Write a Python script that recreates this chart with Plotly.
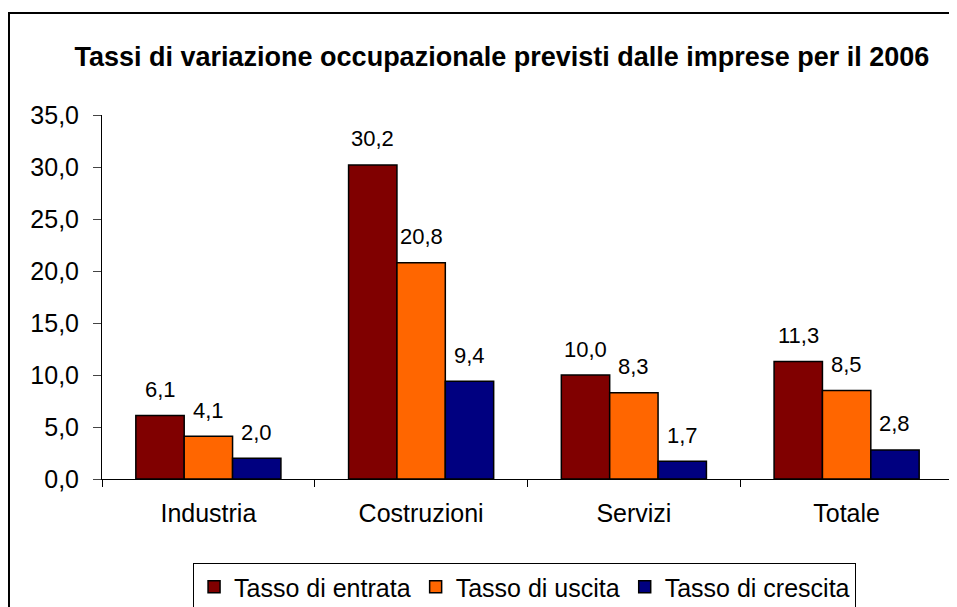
import plotly.graph_objects as go

# data
categories = ["Industria", "Costruzioni", "Servizi", "Totale"]
series_names = ["Tasso di entrata", "Tasso di uscita", "Tasso di crescita"]
entrata = [6.1, 30.2, 10.0, 11.3]
uscita = [4.1, 20.8, 8.3, 8.5]
crescita = [2.0, 9.4, 1.7, 2.8]
y_ticks = [0, 5, 10, 15, 20, 25, 30, 35]

colors = ["#800000", "#FF6600", "#000080"]
font = "Liberation Sans, Arial, sans-serif"

fig = go.Figure()
for name, vals, col in zip(series_names, [entrata, uscita, crescita], colors):
    fig.add_trace(go.Bar(
        x=categories,
        y=vals,
        name=name,
        marker=dict(color=col, line=dict(color="black", width=1.5)),
    ))

# value labels above the bars
for i, vals in enumerate([entrata, uscita, crescita]):
    for cat, v in zip(categories, vals):
        fig.add_annotation(
            x=cat, y=v,
            text=f"{v:.1f}".replace(".", ","),
            showarrow=False,
            xshift=(i - 1) * 48.3,
            yshift=26,
            yanchor="middle",
            font=dict(size=22, color="black", family=font),
        )

# outer frame around the whole chart (right and bottom edges run off the page)
fig.add_shape(
    type="rect", xref="paper", yref="paper",
    x0=-0.1093, x1=1.03, y0=-0.5, y1=1.28,
    line=dict(color="black", width=2),
    fillcolor="rgba(0,0,0,0)",
)

# page body has an 8px margin; figure is made taller than the window so the
# legend (cut by the window bottom like in the original) doesn't squeeze the plot
fig.update_layout(
    width=949,
    height=640,
    margin=dict(l=94, r=4, t=107, b=169),
    paper_bgcolor="white",
    plot_bgcolor="white",
    separators=",.",
    barmode="group",
    bargap=0.318,
    bargroupgap=0,
    font=dict(family=font, color="black", size=25),
    title=dict(
        text="<b>Tassi di variazione occupazionale previsti dalle imprese per il 2006</b>",
        x=0.5205, xanchor="center",
        y=1 - 48.5 / 640, yanchor="middle",
        font=dict(size=27, family=font, color="black"),
    ),
    xaxis=dict(
        showline=True, linecolor="black", linewidth=1,
        ticks="outside", tickson="boundaries", ticklen=7, tickcolor="black",
        tickfont=dict(size=25),
        ticklabelstandoff=12,
        showgrid=False,
    ),
    yaxis=dict(
        range=[0, 35],
        tickvals=y_ticks,
        tickformat=".1f",
        showline=True, linecolor="black", linewidth=1,
        ticks="outside", ticklen=8, tickcolor="#444444",
        tickfont=dict(size=25),
        ticklabelstandoff=9,
        showgrid=False, zeroline=False,
    ),
    legend=dict(
        orientation="h",
        x=0.107, xanchor="left",
        y=-0.2308, yanchor="top",
        bordercolor="black", borderwidth=1,
        font=dict(size=25),
        tracegroupgap=0,
    ),
    showlegend=True,
)

fig.write_html("out.html")
